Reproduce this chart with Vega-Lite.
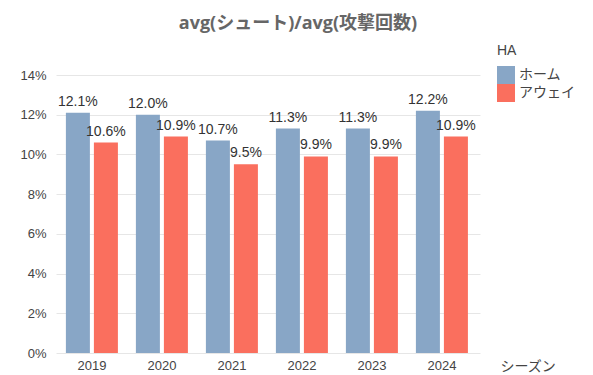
{
  "$schema": "https://vega.github.io/schema/vega-lite/v6.json",
  "autosize": {"type": "none"},
  "padding": {"left": 56, "top": 75, "right": 113, "bottom": 22},
  "width": 424,
  "height": 278,
  "title": {
    "text": "avg(シュート)/avg(攻撃回数)",
    "font": "Open Sans, Noto Sans CJK JP",
    "fontSize": 18,
    "fontWeight": "bold",
    "color": "#666666",
    "anchor": "middle",
    "dx": 30,
    "offset": 11
  },
  "config": {
    "view": {"stroke": null},
    "font": "Liberation Sans, Noto Sans CJK JP",
    "axis": {"labelFont": "Liberation Sans, Noto Sans CJK JP", "titleFont": "Liberation Sans, Noto Sans CJK JP"},
    "legend": {"labelFont": "Liberation Sans, Noto Sans CJK JP", "titleFont": "Liberation Sans, Noto Sans CJK JP"}
  },
  "data": {
    "values": [
      {"season": "2019", "HA": "ホーム", "value": 0.121},
      {"season": "2019", "HA": "アウェイ", "value": 0.106},
      {"season": "2020", "HA": "ホーム", "value": 0.120},
      {"season": "2020", "HA": "アウェイ", "value": 0.109},
      {"season": "2021", "HA": "ホーム", "value": 0.107},
      {"season": "2021", "HA": "アウェイ", "value": 0.095},
      {"season": "2022", "HA": "ホーム", "value": 0.113},
      {"season": "2022", "HA": "アウェイ", "value": 0.099},
      {"season": "2023", "HA": "ホーム", "value": 0.113},
      {"season": "2023", "HA": "アウェイ", "value": 0.099},
      {"season": "2024", "HA": "ホーム", "value": 0.122},
      {"season": "2024", "HA": "アウェイ", "value": 0.109}
    ]
  },
  "encoding": {
    "x": {
      "field": "season",
      "type": "nominal",
      "scale": {"paddingInner": 0.257, "paddingOuter": 0.157, "align": 0.45},
      "axis": {
        "title": "シーズン",
        "titleFontSize": 14,
        "titleFontWeight": "normal",
        "titleColor": "#444444",
        "titleAnchor": "start",
        "titleAlign": "left",
        "titleBaseline": "middle",
        "titleX": 444,
        "titleY": 13,
        "labelAngle": 0,
        "labelFontSize": 13,
        "labelColor": "#444444",
        "labelPadding": 6,
        "ticks": false,
        "domain": false,
        "grid": false
      }
    },
    "xOffset": {
      "field": "HA",
      "type": "nominal",
      "sort": ["ホーム", "アウェイ"],
      "scale": {"paddingInner": 0.143, "paddingOuter": 0}
    },
    "y": {
      "field": "value",
      "type": "quantitative",
      "scale": {"domain": [0, 0.14], "nice": false},
      "axis": {
        "title": null,
        "format": ".0%",
        "values": [0, 0.02, 0.04, 0.06, 0.08, 0.1, 0.12, 0.14],
        "labelFontSize": 13,
        "labelColor": "#444444",
        "labelPadding": 10,
        "ticks": false,
        "domain": false,
        "gridColor": "#e6e6e6"
      }
    }
  },
  "layer": [
    {
      "mark": {"type": "bar"},
      "encoding": {
        "color": {
          "field": "HA",
          "type": "nominal",
          "sort": ["ホーム", "アウェイ"],
          "scale": {"domain": ["ホーム", "アウェイ"], "range": ["#88a6c6", "#fa6f5e"]},
          "legend": {
            "title": "HA",
            "orient": "none",
            "legendX": 441,
            "legendY": -31,
            "titleFontSize": 14,
            "titleFontWeight": "normal",
            "titleColor": "#444444",
            "titlePadding": 8,
            "labelFontSize": 14,
            "labelColor": "#444444",
            "symbolType": "square",
            "symbolSize": 324,
            "symbolStrokeWidth": 0,
            "rowPadding": 0,
            "labelOffset": 4
          }
        }
      }
    },
    {
      "mark": {"type": "text", "baseline": "bottom", "dy": -4, "fontSize": 14, "color": "#333333"},
      "encoding": {
        "text": {"field": "value", "type": "quantitative", "format": ".1%"}
      }
    }
  ]
}
